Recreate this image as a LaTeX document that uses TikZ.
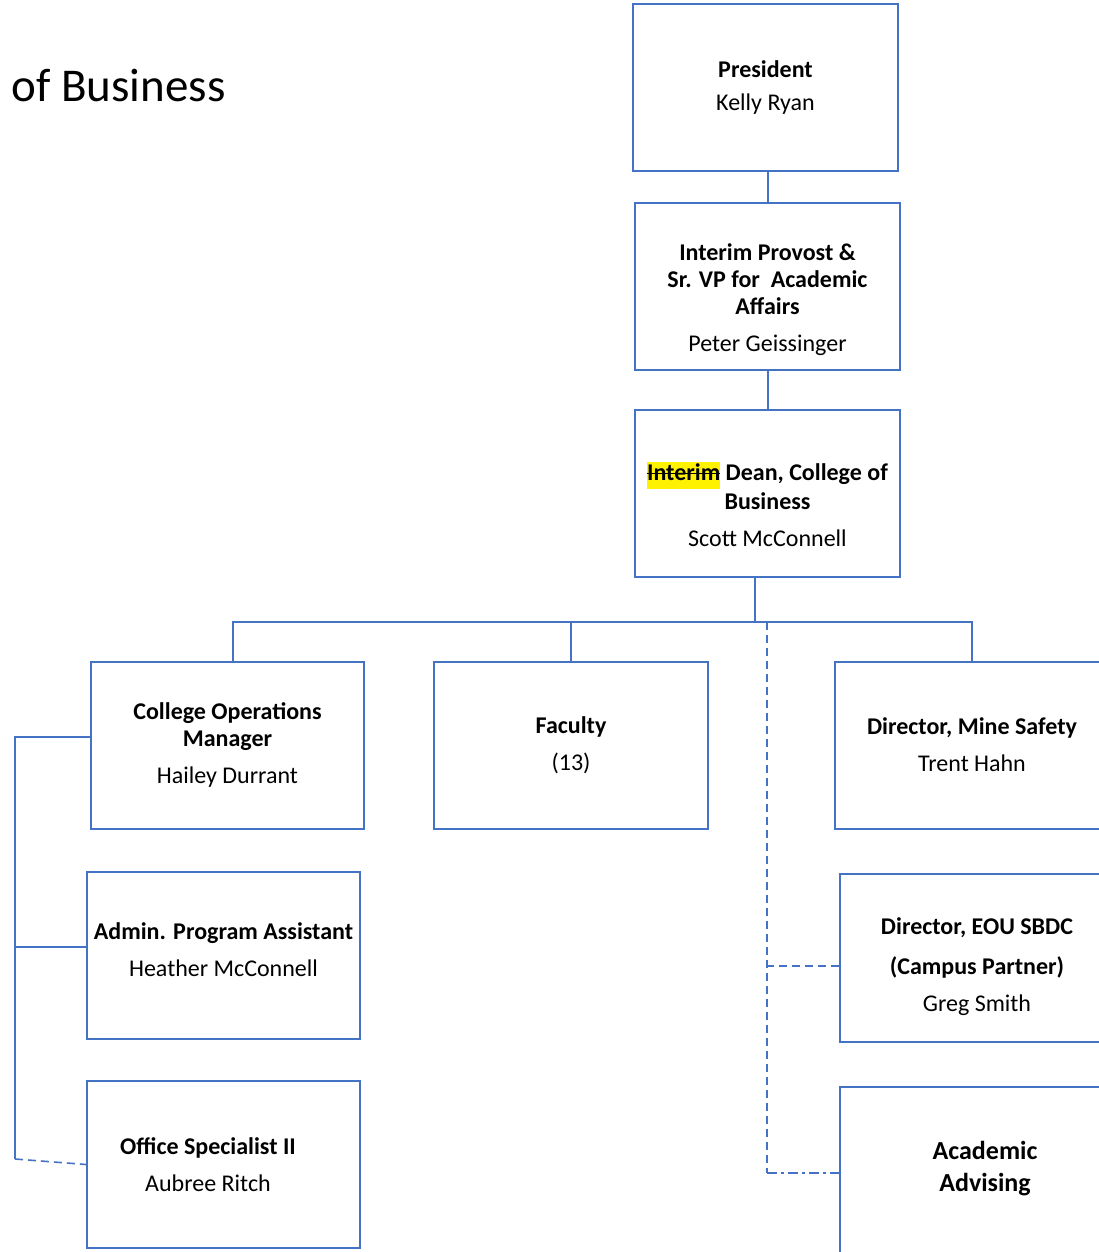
\documentclass[tikz,border=0pt]{standalone}
\usepackage{fontspec}
\setmainfont{Carlito}
\definecolor{orgblue}{HTML}{4472C4}
\setlength{\fboxsep}{0pt}
\newcommand{\strikeword}[1]{\setbox0\hbox{#1}\rlap{\copy0}\rule[0.25em]{\wd0}{1.3pt}}
\begin{document}
\begin{tikzpicture}[x=1pt,y=-1pt,
    box/.style={draw=orgblue,line width=2pt,minimum width=265pt,minimum height=167pt,
      align=center,inner sep=0pt,font=\fontsize{24}{27}\selectfont},
    link/.style={draw=orgblue,line width=2pt},
    dlink/.style={draw=orgblue,line width=1.6pt,dash pattern=on 8pt off 5pt}]
    \useasboundingbox (0,0) rectangle (1099,1252);

    \node[anchor=west,font=\fontsize{47}{52}\selectfont] (t1) at (8,86) {of Business};

    \node[box] (v1) at (765.5,87.5) {\textbf{President}\\[6pt]Kelly Ryan};
    \node[box] (v2) at (767.5,286.5) {\mbox{}\\[17pt]\textbf{Interim Provost \&}\\\textbf{Sr. VP for\ \ Academic}\\\textbf{Affairs}\\[10pt]Peter Geissinger};
    \node[box] (v3) at (767.5,493) {\mbox{}\\[14pt]\colorbox{yellow}{\strut\textbf{\strikeword{Interim}}} \textbf{Dean, College of}\\[2pt]\textbf{Business}\\[10pt]Scott McConnell};
    \node[box,minimum width=273pt] (v4) at (227.5,745) {\textbf{College Operations}\\\textbf{Manager}\\[10pt]Hailey Durrant};
    \node[box,minimum width=274pt] (v5) at (571,745) {\textbf{Faculty}\\[10pt](13)};
    \node[box,minimum width=274pt] (v6) at (972,745) {\textbf{Director, Mine Safety}\\[10pt]Trent Hahn};
    \node[box,minimum width=273pt] (v7) at (223.5,955.5) {\textbf{Admin. Program Assistant}\\[10pt]Heather McConnell\\[-15pt]\mbox{}};
    \node[box,minimum width=273pt] (v8) at (223.5,1164.5) {\textbf{Office Specialist II}\hspace*{31pt}\\[10pt]Aubree Ritch\hspace*{31pt}};
    \node[box,minimum width=274pt,minimum height=168pt] (v9) at (977,958) {\mbox{}\\[7pt]\textbf{Director, EOU SBDC}\\[13pt]\textbf{(Campus Partner)}\\[10pt]Greg Smith};
    \node[box,minimum width=274pt,minimum height=172pt,font=\fontsize{26}{32}\selectfont] (v10) at (977,1173) {\hspace*{16pt}\textbf{Academic}\\\hspace*{16pt}\textbf{Advising}\\[-18pt]\mbox{}};

    \coordinate (j1) at (755,622);
    \coordinate (j2) at (233,622);
    \coordinate (b0) at (15,737);
    \coordinate (b1) at (15,1159);
    \coordinate (b2) at (15,947);
    \coordinate (d1) at (767,622);
    \coordinate (d2) at (767,1173);
    \coordinate (d3) at (767,966);

    \draw[link] (v2.north |- v1.south) -- (v2.north);
    \draw[link] (v2) -- (v3);
    \draw[link] (v3.south -| j1) -- (j1);
    \draw[link] (j2 |- v4.north) -- (j2) -- (j1);
    \draw[link] (v5.north) |- (j1);
    \draw[link] (v6.north) |- (j1);
    \draw[link] (v4.west |- b0) -- (b0) -- (b1);
    \draw[link] (v7.west |- b2) -- (b2);
    \draw[dlink] (b1) -- (v8.west);
    \draw[dlink] (d1) -- (d2);
    \draw[dlink] (v9.west |- d3) -- (d3);
    \draw[draw=orgblue,line width=1.6pt,dash pattern=on 10pt off 4pt on 3pt off 4pt] (d2) -- (v10.west);
\end{tikzpicture}
\end{document}
